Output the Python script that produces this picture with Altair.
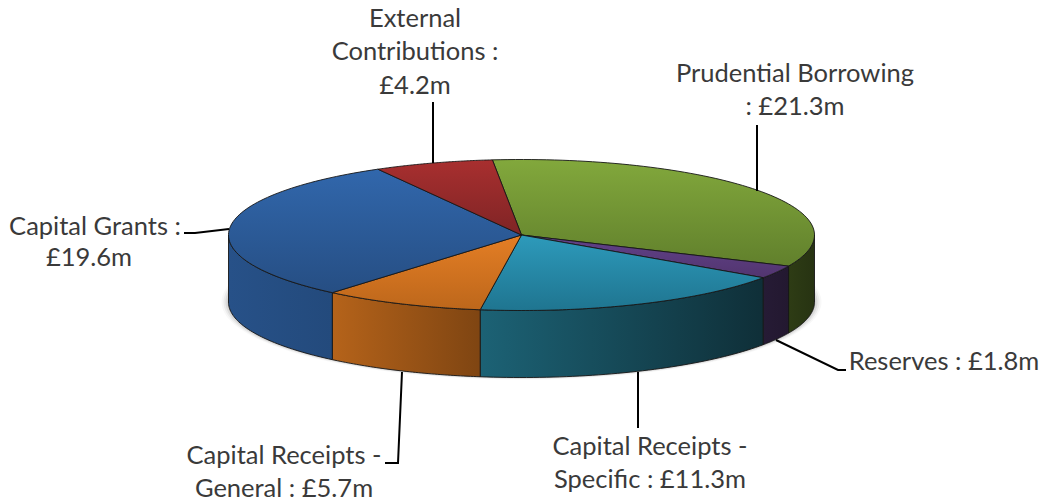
import numpy as np
import pandas as pd
import altair as alt

names = ["Prudential Borrowing", "Reserves", "Capital Receipts - Specific",
         "Capital Receipts - General", "Capital Grants", "External Contributions"]
values = [21.3, 1.8, 11.3, 5.7, 19.6, 4.2]
start_deg = -5.7
top_hi = ["#82a83c", "#62428a", "#2d9abb", "#e47e25", "#3167ac", "#a82f2f"]
top_lo = ["#61802c", "#52356f", "#1f7590", "#bd671b", "#264e83", "#7f2425"]
wall_l = ["#2e3c15", "#261b35", "#1c6275", "#b5631a", "#275188", "#000000"]
wall_r = ["#273312", "#231830", "#0f2f38", "#7f4512", "#234a7c", "#000000"]

label_text = ["External", "Contributions :", "£4.2m", "Prudential Borrowing", ": £21.3m",
              "Reserves  : £1.8m", "Capital Receipts -", "Specific : £11.3m",
              "Capital Receipts -", "General : £5.7m", "Capital Grants :", "£19.6m"]
label_x = [415, 415, 415, 795, 795, 944, 650, 650, 284, 284, 95, 89]
label_y = [19, 52, 86, 74, 107, 362, 447, 480, 456, 489, 227, 258]
leaders = [
    [(433, 102), (433, 163)],
    [(757, 125), (757, 191)],
    [(776, 340), (838, 370), (846, 370)],
    [(638, 372), (638, 428)],
    [(402, 372), (398, 463), (385, 463)],
    [(229, 229), (195, 233), (184, 233)],
]

CX, CY, RX, RY, DEPTH = 521.5, 235, 293, 75.5, 67
X = alt.X("x:Q", scale=alt.Scale(domain=[8, 1041], nice=False, zero=False), axis=None)
Y = alt.Y("y:Q", scale=alt.Scale(domain=[499, 8], nice=False, zero=False), axis=None)


def ex(t):
    return CX + RX * np.sin(np.radians(t))


def ey(t):
    return CY - RY * np.cos(np.radians(t))


def poly(xs, ys, fill, stroke="#161616", width=0.9, opacity=1):
    df = pd.DataFrame({"x": xs, "y": ys, "i": range(len(xs))})
    return alt.Chart(df).mark_line(fill=fill, stroke=stroke, strokeWidth=width,
                                   opacity=opacity, interpolate="linear",
                                   clip=False).encode(x=X, y=Y, order="i:Q")


layers = []
# soft shadow under the disc
tt = np.linspace(0, 360, 181)
for grow, op in [(7, 0.04), (5, 0.07), (3, 0.11), (1, 0.15)]:
    layers.append(poly(CX + (RX + grow) * np.sin(np.radians(tt)),
                       CY + DEPTH + (RY + grow * 0.3) * np.cos(np.radians(tt)),
                       "#555555", stroke="transparent", width=0, opacity=op))

edges = start_deg + np.concatenate([[0], np.cumsum(values)]) / sum(values) * 360

# front wall
for k in range(len(values)):
    a, b = max(edges[k], 90), min(edges[k + 1], 270)
    if a >= b:
        continue
    t = np.linspace(a, b, 50)
    xs = np.concatenate([ex(t), ex(t[::-1]), ex(t[:1])])
    ys = np.concatenate([ey(t), ey(t[::-1]) + DEPTH, ey(t[:1])])
    grad = alt.Gradient(gradient="linear", x1=0, y1=0, x2=1, y2=0,
                        stops=[alt.GradientStop(color=wall_l[k], offset=0),
                               alt.GradientStop(color=wall_r[k], offset=1)])
    layers.append(poly(xs, ys, grad))

# top face
for k in range(len(values)):
    t = np.linspace(edges[k], edges[k + 1], 80)
    xs = np.concatenate([[CX], ex(t), [CX]])
    ys = np.concatenate([[CY], ey(t), [CY]])
    grad = alt.Gradient(gradient="linear", x1=0, y1=0, x2=0, y2=1,
                        stops=[alt.GradientStop(color=top_hi[k], offset=0),
                               alt.GradientStop(color=top_lo[k], offset=1)])
    layers.append(poly(xs, ys, grad))

# leader lines
for pts in leaders:
    df = pd.DataFrame({"x": [p[0] for p in pts], "y": [p[1] for p in pts], "i": range(len(pts))})
    layers.append(alt.Chart(df).mark_line(color="#000000", strokeWidth=2).encode(x=X, y=Y, order="i:Q"))

labels = pd.DataFrame({"x": label_x, "y": label_y, "t": label_text})
layers.append(alt.Chart(labels).mark_text(font="Lato", fontSize=25.5, color="#3a3a3a",
                                          align="center", baseline="middle").encode(x=X, y=Y, text="t:N"))

chart = alt.layer(*layers).properties(
    width=1033, height=491, padding=0,
    autosize=alt.AutoSizeParams(type="none"), background="white",
).configure_view(stroke=None)

chart.save("out.html", embed_options={"renderer": "svg", "actions": False})
